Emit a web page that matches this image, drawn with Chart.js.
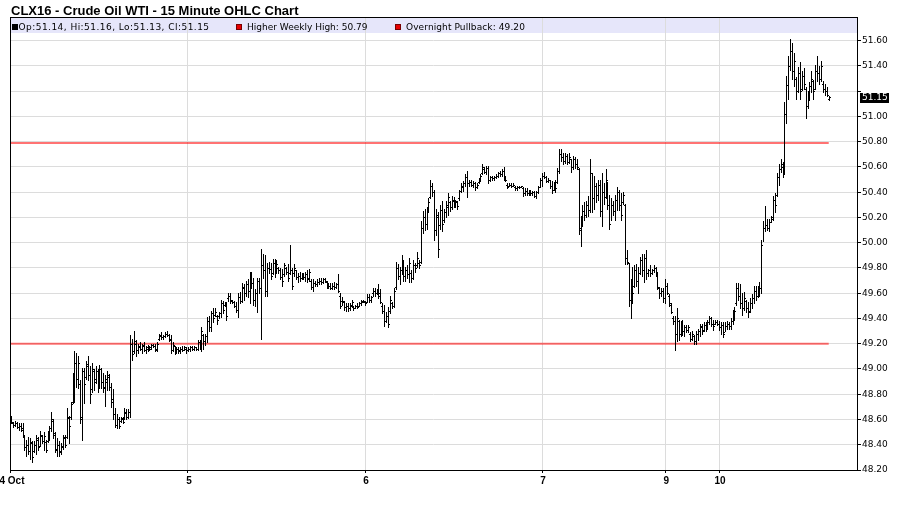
<!DOCTYPE html>
<html>
<head>
<meta charset="utf-8">
<script src="https://cdn.jsdelivr.net/npm/chart.js@4.4.1/dist/chart.umd.min.js"></script>
<style>
  html, body { margin: 0; padding: 0; background: #fff; }
</style>
</head>
<body>
<canvas id="ohlcChart" width="900" height="511"></canvas>
<script>
const chartTitle = 'CLX16 - Crude Oil WTI - 15 Minute OHLC Chart';

// session starts (bar index) and their labels
const dayTicks = [0, 92, 184, 276, 340, 368];
const dayLabels = ['4 Oct', '5', '6', '7', '9', '10'];

const priceTicks = [48.2, 48.4, 48.6, 48.8, 49.0, 49.2, 49.4, 49.6, 49.8, 50.0,
  50.2, 50.4, 50.6, 50.8, 51.0, 51.2, 51.4, 51.6];

const weeklyHigh = 50.79;
const overnightPullback = 49.20;

// 15 minute bars, one row per session
const highs = [
  48.63,48.58,48.59,48.58,48.57,48.57,48.57,48.47,48.44,48.46,48.45,48.43,48.43,48.48,48.46,48.51,48.48,48.50,48.44,48.51,
  48.55,48.66,48.60,48.50,48.45,48.43,48.41,48.48,48.48,48.69,48.63,48.74,48.97,49.14,49.13,49.10,48.91,49.01,49.01,49.06,
  49.10,49.02,49.05,49.00,49.02,49.00,49.03,49.01,48.97,48.95,48.98,48.96,48.89,48.84,48.69,48.64,48.62,48.62,48.62,48.69,
  48.68,48.68,49.27,49.24,49.30,49.23,49.20,49.21,49.20,49.21,49.18,49.19,49.18,49.20,49.20,49.20,49.21,49.28,49.29,49.27,
  49.29,49.30,49.28,49.27,49.21,49.18,49.17,49.17,49.17,49.18,49.18,49.17,
  49.17,49.18,49.18,49.18,49.17,49.23,49.23,49.33,49.28,49.28,49.41,49.42,49.46,49.48,49.48,49.43,49.45,49.55,49.54,49.53,
  49.53,49.60,49.60,49.55,49.54,49.53,49.60,49.61,49.68,49.67,49.70,49.71,49.77,49.77,49.72,49.63,49.72,49.72,49.95,49.91,
  49.90,49.84,49.85,49.84,49.87,49.87,49.86,49.81,49.80,49.79,49.84,49.81,49.83,49.98,49.80,49.83,49.78,49.76,49.77,49.76,
  49.76,49.77,49.78,49.79,49.71,49.71,49.70,49.71,49.72,49.72,49.72,49.72,49.70,49.68,49.68,49.68,49.69,49.68,49.75,49.60,
  49.57,49.54,49.52,49.52,49.52,49.55,49.50,49.51,49.52,49.53,49.55,49.55,
  49.54,49.59,49.59,49.58,49.64,49.64,49.63,49.67,49.63,49.52,49.51,49.45,49.49,49.58,49.53,49.64,49.85,49.83,49.81,49.90,
  49.86,49.81,49.82,49.88,49.78,49.86,49.84,49.93,49.86,50.17,50.25,50.27,50.28,50.35,50.50,50.47,50.42,50.27,50.24,50.30,
  50.33,50.27,50.33,50.39,50.33,50.37,50.36,50.34,50.33,50.42,50.47,50.49,50.54,50.57,50.50,50.50,50.49,50.48,50.47,50.51,
  50.54,50.62,50.60,50.61,50.61,50.53,50.53,50.53,50.54,50.56,50.57,50.58,50.60,50.53,50.47,50.47,50.47,50.47,50.45,50.45,
  50.45,50.45,50.44,50.43,50.43,50.42,50.42,50.41,50.41,50.41,50.45,50.51,
  50.55,50.56,50.53,50.51,50.50,50.49,50.48,50.50,50.59,50.74,50.74,50.71,50.71,50.70,50.71,50.66,50.69,50.68,50.66,50.59,
  50.21,50.30,50.32,50.33,50.37,50.66,50.55,50.53,50.47,50.50,50.50,50.55,50.47,50.58,50.48,50.38,50.35,50.33,50.38,50.44,
  50.42,50.39,50.40,50.31,49.94,49.84,49.71,49.81,49.82,49.83,49.81,49.89,49.91,49.91,49.94,49.79,49.82,49.79,49.82,49.81,
  49.77,49.65,49.64,49.64,
  49.71,49.68,49.59,49.52,49.42,49.42,49.48,49.39,49.38,49.39,49.35,49.35,49.35,49.29,49.30,49.27,49.30,49.32,49.36,49.36,
  49.37,49.37,49.39,49.42,49.41,49.39,49.39,49.39,
  49.38,49.37,49.37,49.37,49.38,49.37,49.40,49.47,49.49,49.68,49.68,49.67,49.60,49.61,49.55,49.53,49.56,49.59,49.66,49.66,
  49.66,49.69,50.02,50.17,50.29,50.19,50.19,50.21,50.37,50.39,50.55,50.62,50.66,50.64,51.11,51.32,51.48,51.61,51.58,51.50,
  51.31,51.39,51.43,51.36,51.38,51.23,51.20,51.27,51.36,51.29,51.41,51.48,51.40,51.44,51.28,51.26,51.23,51.16
];

const lows = [
  48.57,48.54,48.55,48.53,48.52,48.51,48.47,48.36,48.31,48.33,48.29,48.26,48.34,48.33,48.36,48.39,48.41,48.36,48.34,48.42,
  48.44,48.51,48.45,48.34,48.31,48.31,48.33,48.37,48.38,48.45,48.41,48.60,48.73,48.74,48.86,48.85,48.57,48.44,48.73,48.92,
  48.91,48.73,48.82,48.83,48.89,48.82,48.85,48.85,48.82,48.71,48.83,48.83,48.70,48.60,48.54,48.53,48.53,48.58,48.57,48.60,
  48.60,48.61,48.62,49.07,49.13,49.10,49.13,49.15,49.13,49.14,49.13,49.14,49.15,49.16,49.17,49.14,49.14,49.23,49.24,49.24,
  49.25,49.26,49.22,49.13,49.14,49.12,49.13,49.13,49.13,49.14,49.15,49.13,
  49.14,49.14,49.15,49.15,49.15,49.15,49.16,49.14,49.16,49.19,49.21,49.30,49.30,49.37,49.42,49.36,49.40,49.41,49.44,49.50,
  49.39,49.54,49.52,49.52,49.49,49.45,49.41,49.52,49.53,49.55,49.58,49.57,49.52,49.64,49.51,49.50,49.45,49.60,49.24,49.72,
  49.58,49.58,49.76,49.71,49.75,49.73,49.77,49.76,49.71,49.66,49.74,49.75,49.70,49.75,49.63,49.74,49.71,49.69,49.70,49.71,
  49.71,49.70,49.69,49.70,49.63,49.62,49.66,49.66,49.67,49.67,49.68,49.69,49.64,49.64,49.63,49.63,49.63,49.64,49.61,49.48,
  49.51,49.47,49.46,49.46,49.47,49.50,49.47,49.48,49.48,49.50,49.51,49.53,
  49.51,49.53,49.53,49.53,49.58,49.58,49.59,49.56,49.52,49.44,49.34,49.37,49.33,49.44,49.48,49.49,49.63,49.71,49.67,49.75,
  49.70,49.70,49.72,49.69,49.69,49.71,49.77,49.81,49.80,49.84,50.08,50.10,50.11,50.24,50.35,50.37,50.02,50.06,49.89,50.11,
  50.09,50.16,50.20,50.22,50.25,50.27,50.28,50.28,50.27,50.34,50.40,50.41,50.45,50.36,50.45,50.45,50.44,50.42,50.43,50.47,
  50.49,50.54,50.55,50.54,50.47,50.49,50.50,50.50,50.51,50.52,50.53,50.53,50.50,50.49,50.43,50.45,50.44,50.45,50.42,50.42,
  50.43,50.44,50.37,50.38,50.38,50.38,50.38,50.38,50.36,50.35,50.39,50.44,
  50.45,50.51,50.48,50.48,50.43,50.39,50.42,50.40,50.47,50.55,50.65,50.62,50.63,50.62,50.63,50.56,50.58,50.59,50.58,50.07,
  49.97,50.13,50.18,50.20,50.21,50.24,50.24,50.27,50.32,50.34,50.21,50.13,50.31,50.35,50.27,50.11,50.18,50.22,50.18,50.26,
  50.26,50.18,50.31,49.83,49.83,49.50,49.40,49.52,49.65,49.66,49.60,49.75,49.74,49.69,49.71,49.74,49.74,49.75,49.77,49.74,
  49.63,49.56,49.58,49.53,
  49.52,49.59,49.50,49.44,49.36,49.15,49.22,49.23,49.26,49.27,49.26,49.29,49.29,49.22,49.23,49.20,49.20,49.23,49.26,49.28,
  49.30,49.30,49.32,49.36,49.34,49.31,49.36,49.35,
  49.31,49.28,49.25,49.30,49.32,49.32,49.32,49.36,49.39,49.51,49.55,49.48,49.43,49.47,49.45,49.41,49.45,49.48,49.52,49.55,
  49.57,49.58,49.60,50.01,50.09,50.10,50.09,50.16,50.18,50.24,50.37,50.46,50.56,50.52,50.54,50.95,51.14,51.37,51.30,51.24,
  51.14,51.19,51.14,51.21,51.22,50.99,51.07,51.13,51.19,51.14,51.22,51.28,51.26,51.28,51.19,51.17,51.16,51.13
];

const opens = [
  48.60,48.57,48.56,48.57,48.54,48.55,48.53,48.46,48.38,48.40,48.35,48.41,48.35,48.40,48.44,48.39,48.47,48.43,48.42,48.43,
  48.50,48.53,48.59,48.48,48.36,48.40,48.35,48.38,48.45,48.46,48.61,48.62,48.74,48.95,49.05,48.92,48.88,48.60,48.98,48.94,
  49.02,48.95,48.84,48.98,48.92,48.98,48.88,49.00,48.90,48.86,48.90,48.94,48.86,48.76,48.64,48.56,48.60,48.59,48.60,48.62,
  48.65,48.62,48.66,49.20,49.14,49.20,49.15,49.17,49.16,49.18,49.15,49.16,49.17,49.17,49.19,49.18,49.16,49.24,49.26,49.25,
  49.26,49.28,49.27,49.24,49.15,49.18,49.14,49.16,49.15,49.16,49.15,49.16,
  49.15,49.16,49.17,49.16,49.17,49.16,49.21,49.18,49.27,49.22,49.26,49.38,49.33,49.44,49.43,49.42,49.42,49.44,49.52,49.51,
  49.52,49.56,49.58,49.54,49.53,49.50,49.47,49.57,49.54,49.64,49.60,49.67,49.62,49.74,49.68,49.55,49.60,49.70,49.64,49.82,
  49.78,49.62,49.80,49.79,49.76,49.84,49.78,49.80,49.78,49.73,49.75,49.80,49.77,49.76,49.78,49.76,49.78,49.73,49.74,49.72,
  49.74,49.73,49.75,49.72,49.70,49.65,49.68,49.67,49.69,49.70,49.69,49.71,49.69,49.65,49.66,49.64,49.66,49.65,49.67,49.58,
  49.54,49.53,49.49,49.50,49.48,49.51,49.49,49.48,49.50,49.50,49.52,49.53,
  49.53,49.53,49.57,49.55,49.60,49.62,49.60,49.62,49.60,49.50,49.46,49.38,49.42,49.46,49.52,49.50,49.65,49.80,49.74,49.78,
  49.80,49.74,49.78,49.75,49.76,49.72,49.82,49.82,49.84,49.85,50.12,50.20,50.15,50.26,50.36,50.45,50.40,50.10,50.20,50.14,
  50.26,50.18,50.24,50.28,50.32,50.28,50.33,50.30,50.32,50.35,50.41,50.44,50.47,50.52,50.47,50.48,50.46,50.47,50.44,50.48,
  50.50,50.55,50.58,50.56,50.59,50.50,50.52,50.51,50.52,50.53,50.55,50.54,50.57,50.52,50.46,50.45,50.46,50.45,50.44,50.43,
  50.44,50.44,50.43,50.39,50.41,50.39,50.40,50.39,50.40,50.37,50.40,50.44,
  50.50,50.53,50.52,50.49,50.50,50.45,50.42,50.46,50.48,50.57,50.70,50.68,50.65,50.69,50.64,50.66,50.60,50.66,50.62,50.58,
  50.10,50.18,50.25,50.22,50.30,50.26,50.55,50.35,50.45,50.38,50.46,50.25,50.40,50.36,50.48,50.30,50.15,50.30,50.25,50.34,
  50.40,50.30,50.32,50.30,49.88,49.84,49.55,49.68,49.66,49.78,49.70,49.76,49.86,49.78,49.88,49.76,49.78,49.76,49.78,49.80,
  49.75,49.64,49.60,49.62,
  49.56,49.66,49.58,49.51,49.40,49.38,49.28,49.38,49.28,49.34,49.30,49.33,49.31,49.28,49.24,49.26,49.22,49.28,49.30,49.33,
  49.31,49.35,49.33,49.37,49.40,49.36,49.36,49.37,
  49.36,49.33,49.35,49.29,49.34,49.36,49.34,49.38,49.45,49.52,49.64,49.58,49.52,49.48,49.54,49.48,49.46,49.52,49.56,49.62,
  49.58,49.62,49.64,49.98,50.12,50.14,50.12,50.16,50.20,50.34,50.38,50.52,50.58,50.60,50.56,51.02,51.25,51.40,51.52,51.36,
  51.30,51.20,51.34,51.22,51.32,51.22,51.08,51.16,51.24,51.28,51.22,51.36,51.34,51.30,51.26,51.22,51.20,51.14
];

const closes = [
  48.58,48.56,48.57,48.54,48.55,48.52,48.48,48.38,48.40,48.35,48.42,48.30,48.40,48.45,48.38,48.48,48.43,48.47,48.36,48.50,
  48.53,48.60,48.49,48.37,48.40,48.34,48.39,48.46,48.40,48.62,48.55,48.72,48.95,49.05,48.92,49.05,48.62,48.98,48.88,49.04,
  48.95,48.80,49.00,48.90,48.98,48.86,49.00,48.90,48.85,48.92,48.95,48.86,48.74,48.64,48.56,48.60,48.55,48.61,48.58,48.66,
  48.62,48.66,49.20,49.12,49.22,49.15,49.18,49.16,49.19,49.15,49.17,49.18,49.16,49.19,49.18,49.15,49.20,49.27,49.25,49.26,
  49.28,49.27,49.23,49.15,49.19,49.14,49.16,49.14,49.16,49.15,49.17,49.15,
  49.16,49.17,49.16,49.17,49.16,49.21,49.18,49.30,49.22,49.26,49.38,49.33,49.44,49.40,49.45,49.39,49.44,49.52,49.47,49.52,
  49.42,49.58,49.55,49.53,49.50,49.47,49.57,49.54,49.65,49.60,49.67,49.62,49.74,49.68,49.55,49.60,49.70,49.64,49.82,49.78,
  49.62,49.80,49.79,49.74,49.84,49.76,49.83,49.78,49.73,49.70,49.82,49.77,49.72,49.78,49.66,49.80,49.73,49.74,49.72,49.74,
  49.73,49.75,49.71,49.77,49.65,49.68,49.67,49.69,49.70,49.69,49.71,49.70,49.65,49.66,49.64,49.66,49.65,49.67,49.62,49.50,
  49.54,49.49,49.50,49.48,49.50,49.53,49.48,49.50,49.49,49.52,49.54,49.54,
  49.52,49.57,49.55,49.57,49.62,49.60,49.62,49.58,49.53,49.46,49.38,49.42,49.36,49.55,49.50,49.62,49.80,49.74,49.78,49.80,
  49.74,49.78,49.75,49.84,49.72,49.82,49.80,49.88,49.82,50.12,50.20,50.15,50.25,50.32,50.45,50.40,50.10,50.22,49.95,50.26,
  50.15,50.24,50.30,50.36,50.28,50.34,50.30,50.33,50.29,50.41,50.45,50.47,50.52,50.47,50.48,50.46,50.47,50.44,50.46,50.50,
  50.53,50.60,50.56,50.59,50.50,50.52,50.51,50.52,50.53,50.55,50.54,50.57,50.52,50.50,50.44,50.46,50.45,50.46,50.43,50.44,
  50.44,50.45,50.39,50.41,50.39,50.40,50.39,50.40,50.37,50.40,50.44,50.50,
  50.53,50.52,50.49,50.50,50.45,50.42,50.46,50.43,50.57,50.70,50.68,50.65,50.69,50.64,50.68,50.60,50.66,50.62,50.60,50.12,
  50.18,50.25,50.22,50.30,50.26,50.55,50.35,50.45,50.38,50.46,50.25,50.40,50.36,50.50,50.30,50.15,50.30,50.25,50.34,50.40,
  50.30,50.22,50.38,49.88,49.85,49.55,49.68,49.60,49.78,49.70,49.76,49.86,49.78,49.88,49.76,49.78,49.76,49.78,49.80,49.76,
  49.65,49.60,49.62,49.56,
  49.66,49.60,49.52,49.45,49.38,49.28,49.40,49.28,49.35,49.30,49.33,49.31,49.33,49.24,49.28,49.22,49.28,49.30,49.34,49.30,
  49.35,49.33,49.37,49.40,49.36,49.34,49.37,49.36,
  49.33,49.35,49.28,49.34,49.36,49.34,49.38,49.45,49.46,49.64,49.58,49.52,49.48,49.56,49.48,49.45,49.52,49.56,49.62,49.58,
  49.62,49.64,49.98,50.12,50.14,50.12,50.16,50.19,50.34,50.30,50.52,50.58,50.62,50.56,51.02,51.25,51.40,51.52,51.36,51.44,
  51.20,51.34,51.20,51.32,51.26,51.08,51.16,51.24,51.30,51.20,51.36,51.34,51.30,51.40,51.22,51.20,51.17,51.15
];

const last = highs.length - 1;
const fmt = v => v.toFixed(2);

// hi-lo range per bar, the open/close ticks are added by the plugin below
const rangeData = highs.map((h, i) => ({ x: i, y: [lows[i], h] }));

const ohlcPlugin = {
  id: 'ohlcFrame',
  beforeDraw(chart) {
    const { ctx, chartArea: a } = chart;
    ctx.save();
    ctx.fillStyle = '#fff';
    ctx.fillRect(0, 0, chart.width, chart.height);
    ctx.fillStyle = '#e6e6fa';
    ctx.fillRect(a.left, a.top, a.right - a.left, 16);
    ctx.restore();
  },
  afterDatasetsDraw(chart) {
    const { ctx } = chart;
    const yScale = chart.scales.y;
    const meta = chart.getDatasetMeta(0);
    ctx.save();
    ctx.fillStyle = '#000';
    meta.data.forEach((bar, i) => {
      const x = Math.round(bar.x);
      const top = Math.round(Math.min(bar.y, bar.base));
      const bot = Math.round(Math.max(bar.y, bar.base));
      ctx.fillRect(x, top, 1, Math.max(1, bot - top + 1));
      ctx.fillRect(x - 1, Math.round(yScale.getPixelForValue(opens[i])), 1, 1);
      ctx.fillRect(x + 1, Math.round(yScale.getPixelForValue(closes[i])), 1, 1);
    });
    ctx.restore();
  },
  afterDraw(chart) {
    const { ctx, chartArea: a } = chart;
    const xScale = chart.scales.x;
    const yScale = chart.scales.y;
    ctx.save();

    // frame
    ctx.strokeStyle = '#000';
    ctx.lineWidth = 1;
    ctx.strokeRect(a.left + 0.5, a.top + 0.5, a.right - a.left, a.bottom - a.top);

    // title
    ctx.fillStyle = '#000';
    ctx.font = 'bold 13px "Liberation Sans", Arial, sans-serif';
    ctx.textBaseline = 'alphabetic';
    ctx.textAlign = 'left';
    ctx.fillText(chartTitle, 11, 15);

    // legend strip
    const items = [
      { text: 'Op:' + fmt(opens[last]) + ', Hi:' + fmt(highs[last]) + ', Lo:' + fmt(lows[last]) + ', Cl:' + fmt(closes[last]),
        color: '#000', sq: 12, tx: 18.5, w: 191 },
      { text: 'Higher Weekly High: ' + fmt(weeklyHigh), color: '#e80000', sq: 236, tx: 247, w: 117 },
      { text: 'Overnight Pullback: ' + fmt(overnightPullback), color: '#e80000', sq: 395, tx: 406, w: 119 }
    ];
    ctx.font = '9px "DejaVu Sans", sans-serif';
    items.forEach(it => {
      ctx.fillStyle = it.color;
      ctx.fillRect(it.sq, 24, 6, 6);
      if (it.color !== '#000') {
        ctx.strokeStyle = '#700';
        ctx.strokeRect(it.sq + 0.5, 24.5, 5, 5);
      }
      ctx.letterSpacing = '0px';
      const w = ctx.measureText(it.text).width;
      ctx.letterSpacing = Math.max(0, (it.w - w) / it.text.length) + 'px';
      ctx.fillStyle = '#000';
      ctx.fillText(it.text, it.tx, 30);
    });
    ctx.letterSpacing = '0px';

    // session labels
    ctx.font = 'bold 10px "Liberation Sans", Arial, sans-serif';
    ctx.textAlign = 'center';
    dayTicks.forEach((t, i) => {
      ctx.fillText(dayLabels[i], xScale.getPixelForValue(t) + 1, 484);
    });

    // last price marker
    const yc = Math.round(yScale.getPixelForValue(closes[last]));
    ctx.fillStyle = '#000';
    ctx.fillRect(a.right + 3, yc - 4, 29, 10);
    ctx.fillStyle = '#fff';
    ctx.font = '9px "DejaVu Sans", sans-serif';
    ctx.textAlign = 'left';
    ctx.textBaseline = 'middle';
    ctx.fillText(fmt(closes[last]), a.right + 5, yc + 1);

    ctx.restore();
  }
};

const ctx = document.getElementById('ohlcChart').getContext('2d');
new Chart(ctx, {
  type: 'bar',
  data: {
    datasets: [
      {
        type: 'bar',
        label: 'OHLC',
        data: rangeData,
        backgroundColor: 'rgba(0,0,0,0)',
        borderWidth: 0,
        barThickness: 1,
        grouped: false,
        order: 0,
      },
      {
        type: 'line',
        label: 'Higher Weekly High',
        data: [{ x: 0, y: weeklyHigh }, { x: last, y: weeklyHigh }],
        borderColor: 'rgba(255, 0, 0, 0.55)',
        borderWidth: 2,
        pointRadius: 0,
        order: 1,
      },
      {
        type: 'line',
        label: 'Overnight Pullback',
        data: [{ x: 0, y: overnightPullback }, { x: last, y: overnightPullback }],
        borderColor: 'rgba(255, 0, 0, 0.55)',
        borderWidth: 2,
        pointRadius: 0,
        order: 1,
      },
    ],
  },
  options: {
    responsive: false,
    animation: false,
    devicePixelRatio: 1,
    layout: { padding: { left: 10, top: 17, right: 0, bottom: 0 } },
    plugins: {
      legend: { display: false },
      tooltip: { enabled: false },
      title: { display: false },
    },
    scales: {
      x: {
        type: 'linear',
        offset: false,
        min: -0.5,
        max: 439.7,
        afterBuildTicks: s => { s.ticks = dayTicks.map(v => ({ value: v })); },
        afterFit: s => { s.height = 41; },
        ticks: { display: false },
        grid: { color: '#dcdcdc', tickColor: '#000', tickLength: 3, offset: false },
        border: { color: '#000' },
      },
      y: {
        position: 'right',
        beginAtZero: false,
        min: 48.2,
        max: 51.787,
        afterBuildTicks: s => { s.ticks = priceTicks.map(v => ({ value: v })); },
        afterFit: s => { s.width = 43; },
        ticks: {
          color: '#000',
          padding: 1,
          font: { family: 'DejaVu Sans', size: 9 },
          // the label hidden behind the last price marker is left out
          callback: v => (Math.abs(v - closes[last]) < 0.08 ? '' : Number(v).toFixed(2)),
        },
        grid: { color: '#dcdcdc', tickColor: '#000', tickLength: 4 },
        border: { color: '#000' },
      },
    },
  },
  plugins: [ohlcPlugin],
});
</script>
</body>
</html>
